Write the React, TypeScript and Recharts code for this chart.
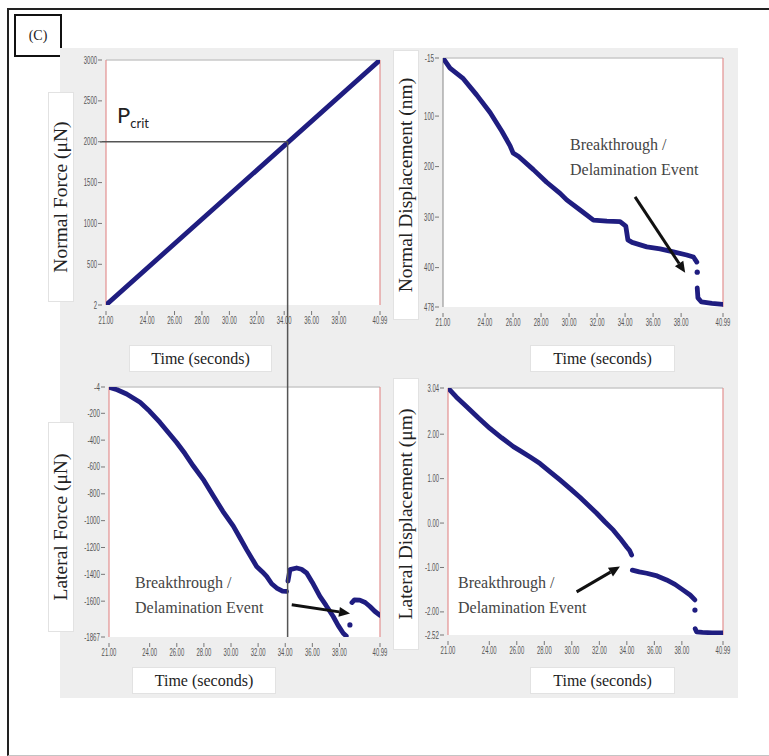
import { ComposedChart, Line, XAxis, YAxis, CartesianGrid, ReferenceLine } from 'recharts'

const NAVY = '#1f1d80'
const RED = '#e39090'
const SERIF = '"Liberation Serif", "Times New Roman", serif'

const timeTicks = [21, 24, 26, 28, 30, 32, 34, 36, 38, 40.99]

// Normal force (top left)
const nfTime = [21, 40.99]
const nfValue = [2, 3000]
const nfTicks = [2, 500, 1000, 1500, 2000, 2500, 3000]
const pCritTime = 34.25
const pCritForce = 2000

// Normal displacement (top right)
const ndTimeA = [21.0, 21.5, 22.45, 23.4, 24.36, 25.2, 25.79, 26.0, 26.4, 27.45, 28.4, 29.36, 29.83, 30.79, 31.74, 32.7, 33.64, 34.05, 34.2, 34.5, 35.55, 36.5, 37.45, 38.4, 38.88, 39.12]
const ndValueA = [-15, 5, 26, 58, 93, 130, 159, 173, 180, 206, 231, 253, 266, 286, 306, 308, 309, 318, 345, 350, 359, 363, 369, 375, 379, 389]
const ndTimeDot = [39.15]
const ndValueDot = [409]
const ndTimeB = [39.15, 39.2, 39.45, 40.2, 40.99]
const ndValueB = [440, 460, 468, 471, 473]
const ndTicks = [-15, 100, 200, 300, 400, 478]

// Lateral force (bottom left)
const lfTimeA = [21.0, 21.6, 22.3, 23.29, 24.0, 24.76, 25.99, 26.6, 27.22, 28.0, 28.7, 29.4, 30.17, 30.7, 31.15, 31.89, 32.3, 32.63, 33.0, 33.37, 33.8, 34.1]
const lfValueA = [-6, -25, -56, -118, -185, -268, -418, -500, -593, -700, -817, -930, -1041, -1135, -1216, -1341, -1380, -1415, -1470, -1502, -1525, -1527]
const lfTimeB = [34.2, 34.35, 34.84, 35.2, 35.58, 36.0, 36.56, 37.0, 37.54, 37.9, 38.28, 38.5]
const lfValueB = [-1450, -1365, -1353, -1362, -1390, -1460, -1565, -1630, -1714, -1780, -1839, -1860]
const lfTimeDot = [38.77]
const lfValueDot = [-1777]
const lfTimeC = [38.92, 39.1, 39.5, 39.9, 40.25, 40.6, 40.99]
const lfValueC = [-1610, -1590, -1592, -1610, -1640, -1675, -1705]
const lfTicks = [-4, -200, -400, -600, -800, -1000, -1200, -1400, -1600, -1867]

// Lateral displacement (bottom right)
const ldTimeA = [21.0, 21.6, 22.36, 23.2, 24.05, 24.9, 25.75, 26.23, 27.0, 27.69, 28.4, 29.14, 29.9, 30.59, 31.2, 31.81, 32.4, 33.02, 33.5, 33.99, 34.2, 34.35]
const ldValueA = [3.04, 2.84, 2.62, 2.37, 2.13, 1.92, 1.72, 1.63, 1.48, 1.34, 1.16, 0.97, 0.77, 0.58, 0.4, 0.22, 0.03, -0.16, -0.34, -0.54, -0.62, -0.72]
const ldTimeB = [34.4, 34.9, 35.44, 36.2, 36.89, 37.5, 38.1, 38.6, 38.95]
const ldValueB = [-1.06, -1.1, -1.13, -1.19, -1.28, -1.38, -1.51, -1.62, -1.73]
const ldTimeDot = [38.95]
const ldValueDot = [-1.96]
const ldTimeC = [38.97, 39.07, 39.5, 40.2, 40.99]
const ldValueC = [-2.38, -2.45, -2.46, -2.47, -2.47]
const ldTicks = [3.04, 2, 1, 0, -1, -2, -2.52]

const zip = (t: number[], v: number[]) => t.map((x, i) => ({ t: x, v: v[i] }))

const labelWidth = (s: string) =>
  s.split('').reduce((w, c) => w + (c === '.' ? 1.6 : c === '-' ? 2.6 : 3.3), 0)

const tickFont = '"Liberation Sans", Arial, sans-serif'

function XTick({ x, y, payload }: any) {
  const label = Number(payload.value).toFixed(2)
  return (
    <g>
      <line x1={x} x2={x} y1={y + 6} y2={y + 10} stroke="#777" />
      <text x={x} y={y + 19} textAnchor="middle" fontSize={10} fill="#555" fontFamily={tickFont}
        textLength={labelWidth(label)} lengthAdjust="spacingAndGlyphs">
        {label}
      </text>
    </g>
  )
}

const yTick = (fmt: (v: number) => string) => ({ x, y, payload }: any) => {
  const label = fmt(Number(payload.value))
  return (
    <g>
      <line x1={x - 8} x2={x - 4} y1={y} y2={y} stroke="#777" />
      <text x={x - 9} y={y + 3.5} textAnchor="end" fontSize={10} fill="#555" fontFamily={tickFont}
        textLength={labelWidth(label)} lengthAdjust="spacingAndGlyphs">
        {label}
      </text>
    </g>
  )
}

const arrowShape = (props: any) => {
  const { x1, y1, x2, y2 } = props
  const a = Math.atan2(y2 - y1, x2 - x1)
  const len = 11
  const half = 5
  const bx = x2 - len * Math.cos(a)
  const by = y2 - len * Math.sin(a)
  const p1 = `${bx + half * Math.sin(a)},${by - half * Math.cos(a)}`
  const p2 = `${bx - half * Math.sin(a)},${by + half * Math.cos(a)}`
  return (
    <g>
      <line x1={x1} y1={y1} x2={bx} y2={by} stroke="#111" strokeWidth={3} />
      <polygon points={`${x2},${y2} ${p1} ${p2}`} fill="#111" />
    </g>
  )
}

const seriesLine = (key: string, data: { t: number; v: number }[]) => (
  <Line key={key} data={data} dataKey="v" stroke={NAVY} strokeWidth={4.8} dot={false}
    strokeLinejoin="round" strokeLinecap="round" isAnimationActive={false} />
)

const seriesDot = (key: string, data: { t: number; v: number }[]) => (
  <Line key={key} data={data} dataKey="v" stroke="none" isAnimationActive={false}
    dot={{ r: 2.6, fill: NAVY, stroke: 'none' }} />
)

const axes = (domain: [number, number], ticks: number[], fmt: (v: number) => string, xHeight: number, reversed = false) => [
  <XAxis key="x" dataKey="t" type="number" domain={[21, 40.99]} ticks={timeTicks} interval={0}
    allowDataOverflow axisLine={false} tickLine={false} tickSize={0} tickMargin={0} height={xHeight} tick={<XTick />} />,
  <YAxis key="y" dataKey="v" type="number" domain={domain} ticks={ticks} interval={0} reversed={reversed}
    allowDataOverflow axisLine={false} tickLine={false} tickSize={0} tickMargin={0} width={36} tick={yTick(fmt)} />,
  <CartesianGrid key="g" horizontal={false} vertical={false} fill="#fff" />,
]

const frame = (top: number, leftColor: string) => [
  <ReferenceLine key="top" y={top} stroke="#c9c9c9" strokeWidth={1.5} />,
  <ReferenceLine key="l" x={21} stroke={leftColor} strokeWidth={1.2} />,
  <ReferenceLine key="r" x={40.99} stroke={RED} strokeWidth={1.2} />,
]

const boxStyle = { position: 'absolute' as const, background: '#fff', border: '1px solid #e2e2e2' }

function XLabel({ left, top, width }: { left: number; top: number; width: number }) {
  return (
    <div style={{ ...boxStyle, left, top, width, height: 25, display: 'flex', alignItems: 'center', justifyContent: 'center', fontFamily: SERIF, fontSize: 16, color: '#222' }}>
      Time (seconds)
    </div>
  )
}

function YLabel({ left, top, height, text }: { left: number; top: number; height: number; text: string }) {
  return (
    <div style={{ ...boxStyle, left, top, width: 24, height }}>
      <span style={{ position: 'absolute', left: '50%', top: '50%', transform: 'translate(-50%, -50%) rotate(-90deg)', whiteSpace: 'nowrap', fontFamily: SERIF, fontSize: 19.5, color: '#222' }}>
        {text}
      </span>
    </div>
  )
}

function Note({ left, top }: { left: number; top: number }) {
  return (
    <div style={{ position: 'absolute', left, top, fontFamily: SERIF, fontSize: 16, lineHeight: '25px', color: '#444', whiteSpace: 'nowrap' }}>
      Breakthrough /<br />Delamination Event
    </div>
  )
}

const margin = { top: 10, right: 18, left: 0, bottom: 0 }
const intFmt = (v: number) => String(v)
const decFmt = (v: number) => v.toFixed(2)

export default function App() {
  return (
    <div style={{ position: 'absolute', left: 0, top: 0, width: 769, height: 756, background: '#fff', overflow: 'hidden', fontFamily: SERIF }}>
      <div style={{ position: 'absolute', left: 7, top: 8, width: 800, height: 745, borderLeft: '2.5px solid #222', borderTop: '2.5px solid #222', borderBottom: '1px solid #c4c4c4' }} />
      <div style={{ position: 'absolute', left: 14, top: 14, width: 44, height: 39, border: '2px solid #111', display: 'flex', alignItems: 'center', justifyContent: 'center', fontSize: 14, color: '#222' }}>
        (C)
      </div>
      <div style={{ position: 'absolute', left: 60, top: 48, width: 678, height: 650, background: '#eeeeee' }} />

      {/* top right: normal displacement */}
      <div style={{ position: 'absolute', left: 407, top: 48 }}>
        <ComposedChart width={334} height={289} margin={margin}>
          {axes([-15, 478], ndTicks, intFmt, 30, true)}
          {frame(-15, '#9a9a9a')}
          {seriesLine('ndA', zip(ndTimeA, ndValueA))}
          {seriesDot('ndD', zip(ndTimeDot, ndValueDot))}
          {seriesLine('ndB', zip(ndTimeB, ndValueB))}
          <ReferenceLine segment={[{ x: 34.71, y: 260 }, { x: 38.29, y: 410 }]} shape={arrowShape} ifOverflow="visible" />
        </ComposedChart>
      </div>

      {/* bottom left: lateral force */}
      <div style={{ position: 'absolute', left: 73, top: 377 }}>
        <ComposedChart width={325} height={290} margin={margin}>
          {axes([-1867, -4], lfTicks, intFmt, 30)}
          {frame(-4, RED)}
          {seriesLine('lfA', zip(lfTimeA, lfValueA))}
          {seriesLine('lfB', zip(lfTimeB, lfValueB))}
          {seriesDot('lfD', zip(lfTimeDot, lfValueDot))}
          {seriesLine('lfC', zip(lfTimeC, lfValueC))}
          <ReferenceLine segment={[{ x: 34.48, y: -1627 }, { x: 38.78, y: -1692 }]} shape={arrowShape} ifOverflow="visible" />
        </ComposedChart>
      </div>

      {/* bottom right: lateral displacement */}
      <div style={{ position: 'absolute', left: 412, top: 378 }}>
        <ComposedChart width={329} height={287} margin={margin}>
          {axes([-2.52, 3.04], ldTicks, decFmt, 30)}
          {frame(3.04, RED)}
          {seriesLine('ldA', zip(ldTimeA, ldValueA))}
          {seriesLine('ldB', zip(ldTimeB, ldValueB))}
          {seriesDot('ldD', zip(ldTimeDot, ldValueDot))}
          {seriesLine('ldC', zip(ldTimeC, ldValueC))}
          <ReferenceLine segment={[{ x: 30.35, y: -1.55 }, { x: 33.5, y: -0.98 }]} shape={arrowShape} ifOverflow="visible" />
        </ComposedChart>
      </div>

      {/* top left: normal force; its P_crit drop line runs down through the lateral force panel */}
      <div style={{ position: 'absolute', left: 70, top: 50 }}>
        <ComposedChart width={328} height={587} margin={margin}>
          {axes([2, 3000], nfTicks, intFmt, 332)}
          {frame(3000, RED)}
          {seriesLine('nf', zip(nfTime, nfValue))}
          <ReferenceLine segment={[{ x: 20.56, y: pCritForce }, { x: pCritTime, y: pCritForce }]} stroke="#555" strokeWidth={1.5} ifOverflow="visible" />
          <ReferenceLine segment={[{ x: pCritTime, y: pCritForce }, { x: pCritTime, y: -5000 }]} stroke="#555" strokeWidth={1.5} ifOverflow="visible" />
        </ComposedChart>
      </div>

      <YLabel left={48} top={92} height={208} text="Normal Force (μN)" />
      <YLabel left={393} top={50} height={268} text="Normal Displacement (nm)" />
      <YLabel left={48} top={422} height={208} text="Lateral Force (μN)" />
      <YLabel left={393} top={378} height={270} text="Lateral Displacement (μm)" />

      <XLabel left={129} top={345} width={141} />
      <XLabel left={530} top={345} width={143} />
      <XLabel left={132} top={667} width={142} />
      <XLabel left={530} top={667} width={143} />

      <div style={{ position: 'absolute', left: 117, top: 103, fontFamily: 'Lato, "Open Sans", sans-serif', fontSize: 22, lineHeight: '24px', color: '#222' }}>
        P<sub style={{ fontSize: 13 }}>crit</sub>
      </div>

      <Note left={570} top={132} />
      <Note left={135} top={570} />
      <Note left={458} top={570} />
    </div>
  )
}
